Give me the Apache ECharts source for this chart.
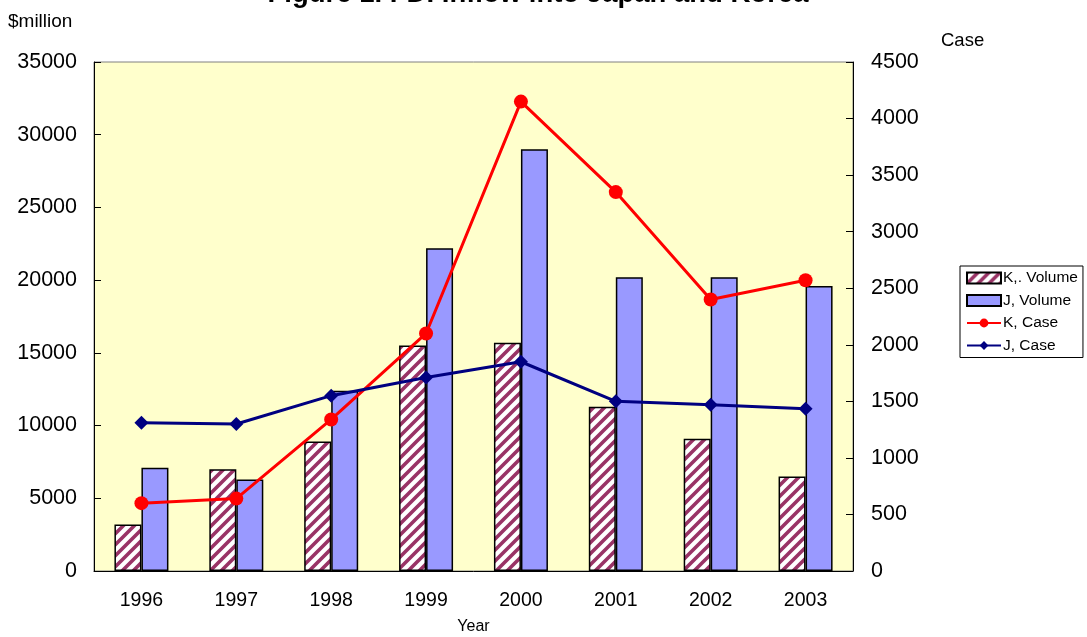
<!DOCTYPE html>
<html>
<head>
<meta charset="utf-8">
<script src="https://cdn.jsdelivr.net/npm/echarts@6/dist/echarts.min.js"></script>
<style>html,body{margin:0;padding:0;background:#fff;}#c{width:1087px;height:637px;}</style>
</head>
<body>
<div id="c"></div>
<script>
const years = ['1996','1997','1998','1999','2000','2001','2002','2003'];
const kVolume = [3200, 7000, 8900, 15500, 15700, 11300, 9100, 6500];
const jVolume = [7100, 6300, 12400, 22200, 29000, 20200, 20200, 19600];
const kCase = [600, 640, 1340, 2100, 4150, 3350, 2400, 2570];
const jCase = [1310, 1300, 1550, 1710, 1850, 1500, 1470, 1435];
const leftTicks = {min: 0, max: 35000, interval: 5000};
const rightTicks = {min: 0, max: 4500, interval: 500};

// stripe pattern tile
const T = 11;
const tile = document.createElement('canvas');
tile.width = T; tile.height = T;
const g = tile.getContext('2d');
g.fillStyle = '#ffffff'; g.fillRect(0,0,T,T);
g.strokeStyle = '#993366'; g.lineWidth = 3.6;
g.beginPath();
g.moveTo(-T/2,T/2); g.lineTo(T/2,-T/2);
g.moveTo(0,T); g.lineTo(T,0);
g.moveTo(T/2,T*1.5); g.lineTo(T*1.5,T/2);
g.stroke();

const font = 'Liberation Sans, Arial, sans-serif';
const chart = echarts.init(document.getElementById('c'), null, {renderer: 'canvas'});
chart.setOption({
  animation: false,
  backgroundColor: '#ffffff',
  textStyle: {fontFamily: font, color: '#000'},
  title: {
    text: 'Figure 1. FDI Inflow into Japan and Korea',
    left: 533, textAlign: 'center', top: -25,
    textStyle: {fontFamily: font, fontSize: 27.5, fontWeight: 'bold', color: '#000'}
  },
  grid: {left: 94, right: 234, top: 62, bottom: 66, outerBoundsMode: 'none', containLabel: false,
    show: true, backgroundColor: '#FFFFCC', borderColor: '#808080', borderWidth: 1},
  legend: {
    orient: 'vertical', left: 960, top: 266,
    backgroundColor: '#fff', borderColor: '#000', borderWidth: 1, borderRadius: 0,
    padding: [4, 5, 4, 6], itemGap: 6.5, itemWidth: 34, itemHeight: 11,
    textStyle: {fontFamily: font, fontSize: 15.5, color: '#000', padding: [0,0,0,-3]},
    data: [
      {name: 'K,. Volume', icon: 'rect'},
      {name: 'J, Volume', icon: 'rect'},
      {name: 'K, Case'},
      {name: 'J, Case'}
    ]
  },
  xAxis: {
    type: 'category', data: years, boundaryGap: true,
    name: 'Year', nameLocation: 'middle', nameGap: 48,
    nameTextStyle: {fontFamily: font, fontSize: 16, color: '#000'},
    axisLine: {lineStyle: {color: '#000', width: 1}},
    axisTick: {inside: true, length: 7, lineStyle: {color: '#000'}},
    axisLabel: {fontFamily: font, fontSize: 19.5, color: '#000', margin: 20}
  },
  yAxis: [
    {
      type: 'value', min: leftTicks.min, max: leftTicks.max, interval: leftTicks.interval,
      name: '$million', nameLocation: 'end', nameGap: 0,
      nameTextStyle: {fontFamily: font, fontSize: 19, color: '#000', align: 'left', padding: [0,0,31,-86]},
      axisLine: {show: true, lineStyle: {color: '#000', width: 1}},
      axisTick: {show: true, inside: true, length: 7, lineStyle: {color: '#000'}},
      splitLine: {show: false},
      axisLabel: {fontFamily: font, fontSize: 21.5, color: '#000', margin: 17, formatter: v => String(v)}
    },
    {
      type: 'value', min: rightTicks.min, max: rightTicks.max, interval: rightTicks.interval,
      name: 'Case', nameLocation: 'end', nameGap: 0,
      nameTextStyle: {fontFamily: font, fontSize: 18.5, color: '#000', align: 'left', padding: [0,0,12,88]},
      axisLine: {show: true, lineStyle: {color: '#000', width: 1}},
      axisTick: {show: true, inside: true, length: 7, lineStyle: {color: '#000'}},
      splitLine: {show: false},
      axisLabel: {fontFamily: font, fontSize: 21.5, color: '#000', margin: 18, formatter: v => String(v)}
    }
  ],
  series: [
    {
      name: 'K,. Volume', type: 'bar', data: kVolume, yAxisIndex: 0,
      barWidth: 27, barGap: '0%',
      itemStyle: {color: {image: tile, repeat: 'repeat'}, borderColor: '#000', borderWidth: 1.5}
    },
    {
      name: 'J, Volume', type: 'bar', data: jVolume, yAxisIndex: 0,
      barWidth: 27, barGap: '0%',
      itemStyle: {color: '#9999FF', borderColor: '#000', borderWidth: 1.5}
    },
    {
      name: 'K, Case', type: 'line', data: kCase, yAxisIndex: 1, z: 5,
      symbol: 'circle', symbolSize: 14,
      lineStyle: {color: '#FF0000', width: 3},
      itemStyle: {color: '#FF0000'}
    },
    {
      name: 'J, Case', type: 'line', data: jCase, yAxisIndex: 1, z: 5,
      symbol: 'diamond', symbolSize: 14,
      lineStyle: {color: '#000080', width: 3},
      itemStyle: {color: '#000080'}
    }
  ]
});
</script>
</body>
</html>
